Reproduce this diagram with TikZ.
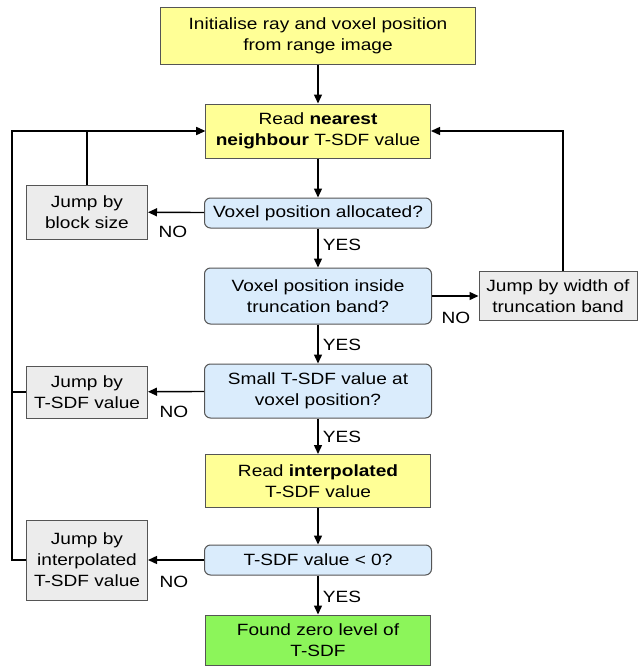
\documentclass[tikz,border=0pt]{standalone}
\usepackage{fontspec}
\setmainfont{Liberation Sans}[FakeStretch=1.17]
\usetikzlibrary{arrows.meta,positioning}
\definecolor{yel}{RGB}{255,255,150}
\definecolor{blu}{RGB}{218,236,252}
\definecolor{gry}{RGB}{236,236,236}
\definecolor{grn}{RGB}{140,245,90}
\definecolor{bord}{RGB}{85,85,85}
\begin{document}
\begin{tikzpicture}[x=1pt,y=-1pt,
  base/.style={draw=bord,line width=1pt,align=center,inner sep=0pt,font=\fontsize{16.3}{21}\selectfont},
  yelbox/.style={base,fill=yel},
  grnbox/.style={base,fill=grn},
  blubox/.style={base,fill=blu,rounded corners=6pt},
  grybox/.style={base,fill=gry},
  arr/.style={line width=1.4pt,-{Triangle[length=9pt,width=8pt]}},
  ln/.style={line width=1.4pt},
  lab/.style={font=\fontsize{16.3}{18}\selectfont,inner sep=0pt}]
\useasboundingbox (0,0) rectangle (639,669);
\node[yelbox,minimum width=315pt,minimum height=57pt] (init) at (318,36) {Initialise ray and voxel position\\from range image};
\node[yelbox,minimum width=225pt,minimum height=54pt] (nn) at (318,131) {Read \textbf{nearest}\\\textbf{neighbour} T-SDF value};
\node[blubox,minimum width=227pt,minimum height=30pt] (alloc) at (318,213) {Voxel position allocated?};
\node[grybox,minimum width=121pt,minimum height=54pt] (block) at (87,212) {Jump by\\block size};
\node[blubox,minimum width=227pt,minimum height=56pt] (band) at (318,296) {Voxel position inside\\truncation band?};
\node[grybox,minimum width=158pt,minimum height=49pt] (width) at (558,296) {Jump by width of\\truncation band};
\node[blubox,minimum width=227pt,minimum height=54pt] (small) at (318,391) {Small T-SDF value at\\voxel position?};
\node[grybox,minimum width=121pt,minimum height=52pt] (jtsdf) at (87,392) {Jump by\\T-SDF value};
\node[yelbox,minimum width=225pt,minimum height=53pt] (interp) at (318,481) {Read \textbf{interpolated}\\T-SDF value};
\node[blubox,minimum width=227pt,minimum height=30pt] (lt0) at (318,560) {T-SDF value < 0?};
\node[grybox,minimum width=121pt,minimum height=80pt] (jinterp) at (87,560) {Jump by\\interpolated\\T-SDF value};
\node[grnbox,minimum width=225pt,minimum height=50pt] (found) at (318,640) {Found zero level of\\T-SDF};
\coordinate (L) at (12,131);
\coordinate (R) at (563,131);
\draw[arr] (init) -- (nn);
\draw[arr] (nn) -- (alloc);
\draw[arr] (alloc) -- (block);
\draw[arr] (alloc) -- (band);
\draw[arr] (band) -- (width);
\draw[arr] (band) -- (small);
\draw[arr] (small) -- (jtsdf);
\draw[arr] (small) -- (interp);
\draw[arr] (interp) -- (lt0);
\draw[arr] (lt0) -- (jinterp);
\draw[arr] (lt0) -- (found);
\draw[arr] (block.north) |- (nn.west);
\draw[arr] (width.north -| R) -- (R) -- (nn.east);
\draw[arr] (jinterp.west) -| (L) -- (nn.west);
\draw[ln] (jtsdf.west) -- (jtsdf.west -| L);
\node[lab] (n1) at (173,232) {NO};
\node[lab] (y1) at (342,245) {YES};
\node[lab] (n2) at (456,318) {NO};
\node[lab] (y2) at (342,345) {YES};
\node[lab] (n3) at (174,412) {NO};
\node[lab] (y3) at (342,437) {YES};
\node[lab] (n4) at (174,582) {NO};
\node[lab] (y4) at (342,597) {YES};
\end{tikzpicture}
\end{document}
